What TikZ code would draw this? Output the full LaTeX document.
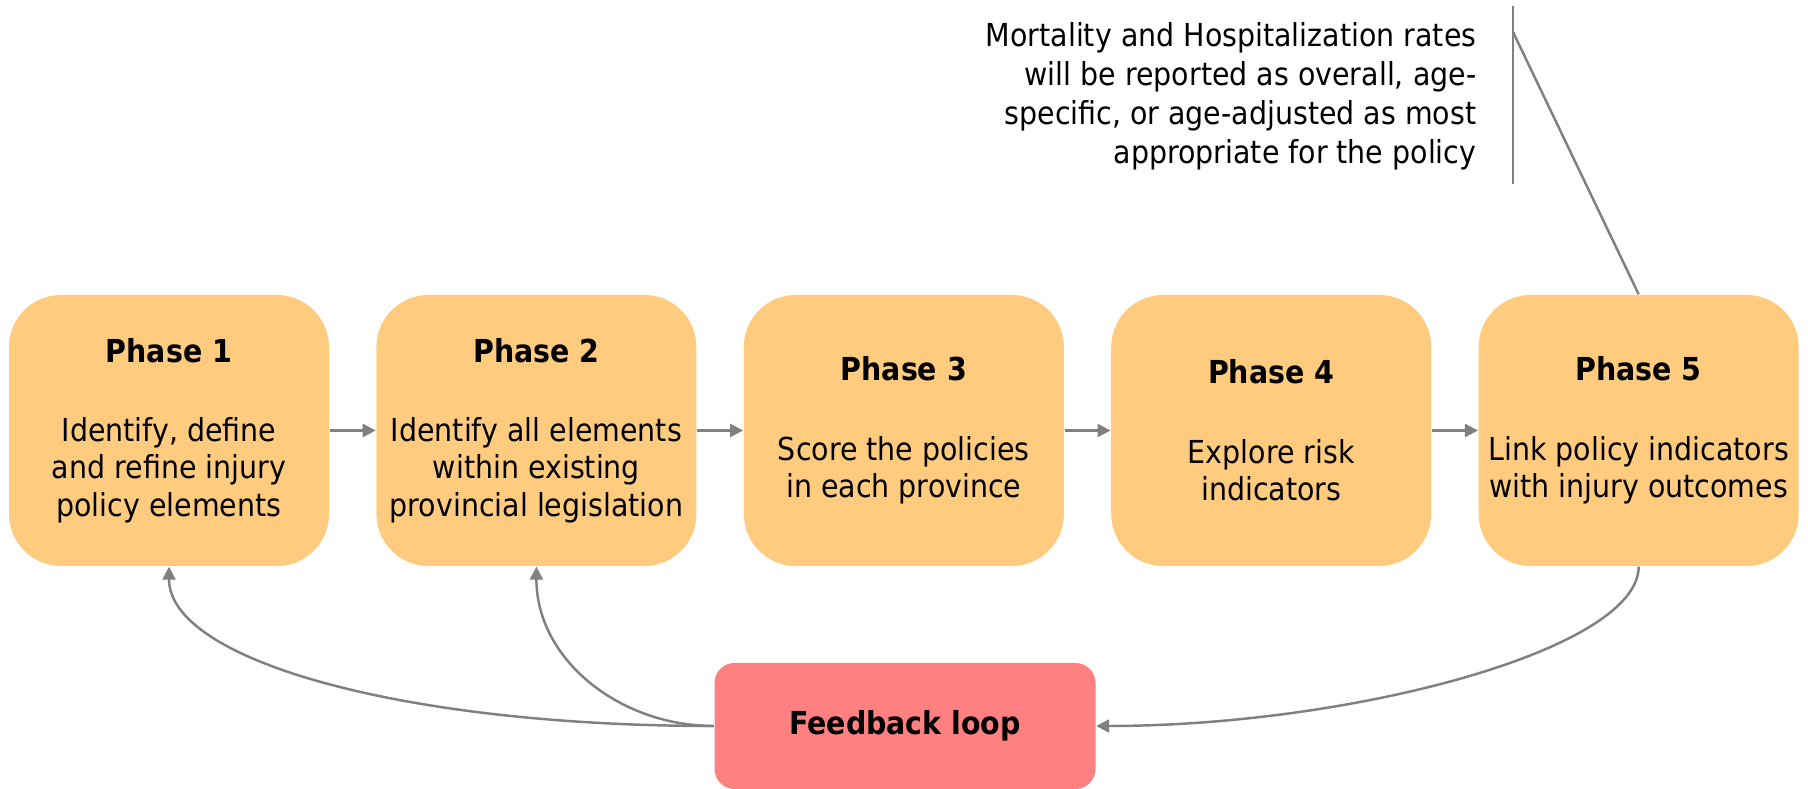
\documentclass[tikz,border=0pt]{standalone}
\usepackage{fontspec}
\setmainfont{DejaVu Sans}[FakeStretch=0.9]
\usetikzlibrary{
  positioning,
  arrows.meta,
  backgrounds
}
\usepackage{xcolor}
\definecolor{phasefill}{HTML}{FFCB7F}
\definecolor{loopfill}{HTML}{FF8080}
\definecolor{linkgray}{HTML}{808080}

\begin{document}
\begin{tikzpicture}[
  phase_box/.style={
    rounded corners=0.52cm,
    fill=phasefill,
    minimum width=3.2cm,
    minimum height=2.71cm,
    inner sep=0pt,
    align=center,
    font=\fontsize{9pt}{10.6pt}\selectfont,
  },
  loop_box/.style={
    rounded corners=0.2cm,
    fill=loopfill,
    minimum width=3.81cm,
    minimum height=1.26cm,
    inner sep=0pt,
    font=\fontsize{9pt}{10.6pt}\selectfont\bfseries,
  },
  link_arrow/.style={
    draw=linkgray,
    line width=0.7pt,
    -{Triangle[length=1.3mm, width=1.3mm]},
  },
  ]

  \path[use as bounding box] (0,0) rectangle (18.08,7.89);

  \begin{scope}[on background layer]
    \fill[white] (current bounding box.south west) rectangle (current bounding box.north east);
  \end{scope}

  % the five phases in a row
  \node[phase_box] (phase1) at (1.69,3.585) {\textbf{Phase 1}\\[12pt]Identify, define\\and refine injury\\policy elements};
  \node[phase_box, right=0.46cm of phase1] (phase2) {\textbf{Phase 2}\\[12pt]Identify all elements\\within existing\\provincial legislation};
  \node[phase_box, right=0.46cm of phase2] (phase3) {\textbf{Phase 3}\\[12pt]Score the policies\\in each province};
  \node[phase_box, right=0.46cm of phase3] (phase4) {\textbf{Phase 4}\\[12pt]Explore risk\\indicators};
  \node[phase_box, right=0.46cm of phase4] (phase5) {\textbf{Phase 5}\\[12pt]Link policy indicators\\with injury outcomes};

  \draw[link_arrow] (phase1) -- (phase2);
  \draw[link_arrow] (phase2) -- (phase3);
  \draw[link_arrow] (phase3) -- (phase4);
  \draw[link_arrow] (phase4) -- (phase5);

  % feedback loop below the row
  \node[loop_box] (feedback) at (9.05,0.63) {Feedback loop};

  \draw[link_arrow] (phase5.south) .. controls +(0,-0.83) and +(2.55,0) .. (feedback.east);
  \draw[link_arrow] (feedback.west) .. controls +(-3.14,0) and +(0,-0.93) .. (phase1.south);
  \draw[link_arrow] (feedback.west) .. controls +(-0.94,0) and +(0,-0.93) .. (phase2.south);

  % note on the outcome rates
  \node[anchor=east, inner sep=0pt, align=right, font=\fontsize{9pt}{11.1pt}\selectfont] (rates_note) at (14.77,6.93)
    {Mortality and Hospitalization rates\\will be reported as overall, age-\\specific, or age-adjusted as most\\appropriate for the policy};

  \coordinate (bar_top) at (15.13,7.83);
  \coordinate (bar_bottom) at (15.13,6.05);
  \coordinate (bar_tap) at (15.13,7.57);
  \draw[linkgray, line width=0.7pt] (bar_top) -- (bar_bottom);
  \draw[linkgray, line width=0.7pt] (bar_tap) -- (phase5.north);

\end{tikzpicture}
\end{document}
